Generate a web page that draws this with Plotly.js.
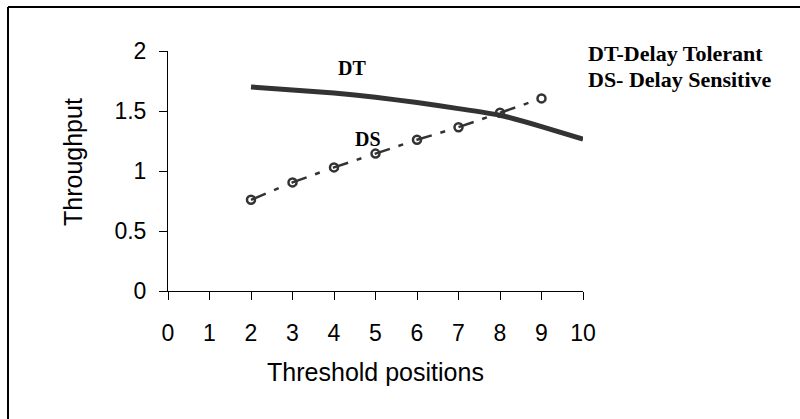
<!DOCTYPE html>
<html>
<head>
<meta charset="utf-8">
<script src="https://cdn.plot.ly/plotly-3.0.1.min.js"></script>
<style>
html,body{margin:0;padding:0;background:#fff;}
#chart{width:800px;height:419px;}
</style>
</head>
<body>
<div id="chart"></div>
<script>
// Data
const thresholdDT = [2, 3, 4, 5, 6, 7, 8, 9, 10];
const throughputDT = [1.70, 1.675, 1.65, 1.615, 1.57, 1.52, 1.465, 1.37, 1.265];
const thresholdDS = [2, 3, 4, 5, 6, 7, 8, 9];
const throughputDS = [0.76, 0.905, 1.03, 1.145, 1.26, 1.365, 1.485, 1.605];
const xTicks = [0, 1, 2, 3, 4, 5, 6, 7, 8, 9, 10];
const yTicks = [0, 0.5, 1, 1.5, 2];
const yTickText = ['0', '0.5', '1', '1.5', '2'];
const labelDT = 'DT';
const labelDS = 'DS';
const noteDT = 'DT-Delay Tolerant';
const noteDS = 'DS- Delay Sensitive';

const traces = [
  {
    x: thresholdDT, y: throughputDT, mode: 'lines', name: labelDT,
    line: {color: '#333333', width: 5, shape: 'spline', smoothing: 0.4},
    hoverinfo: 'skip'
  },
  {
    x: thresholdDS, y: throughputDS, mode: 'lines+markers', name: labelDS,
    line: {color: '#333333', width: 2.5, dash: '16px,9px,5px,14px'},
    marker: {symbol: 'circle-open', size: 8, color: '#333333', line: {width: 2.5, color: '#333333'}},
    hoverinfo: 'skip'
  }
];

const axisFont = {family: 'Liberation Sans, Arial, sans-serif', size: 23, color: '#000'};
const titleFont = {family: 'Liberation Sans, Arial, sans-serif', size: 25, color: '#000'};
const serifBold = (s) => ({family: 'Liberation Serif, Times New Roman, serif', size: s, color: '#000'});
const layout = {
  width: 800, height: 419,
  margin: {l: 168, r: 217, t: 51, b: 128},
  paper_bgcolor: '#ffffff', plot_bgcolor: '#ffffff',
  showlegend: false,
  xaxis: {
    range: [0, 10], tickvals: xTicks, ticktext: xTicks.map(String),
    showline: true, linecolor: '#000', linewidth: 1,
    ticks: 'outside', ticklen: 8, tickcolor: '#000', tickwidth: 1,
    showgrid: false, zeroline: false, tickfont: axisFont,
    ticklabelstandoff: 13,
    title: {text: 'Threshold positions', font: titleFont, standoff: 18}
  },
  yaxis: {
    range: [0, 2], tickvals: yTicks, ticktext: yTickText,
    showline: true, linecolor: '#000', linewidth: 1,
    ticks: 'outside', ticklen: 8, tickcolor: '#000', tickwidth: 1,
    showgrid: false, zeroline: false, tickfont: axisFont,
    ticklabelstandoff: 8
  },
  annotations: [
    {xref: 'paper', yref: 'paper', x: (73 - 168) / 415, y: (291 - 162) / 240, text: 'Throughput', textangle: -90,
     showarrow: false, xanchor: 'center', yanchor: 'middle', font: titleFont},
    {xref: 'x', yref: 'y', x: 4.43, y: 1.86, text: '<b>' + labelDT + '</b>', showarrow: false, font: serifBold(20)},
    {xref: 'x', yref: 'y', x: 4.82, y: 1.27, text: '<b>' + labelDS + '</b>', showarrow: false, font: serifBold(20)},
    {xref: 'paper', yref: 'paper', x: (586 - 168) / 415, y: (291 - 54) / 240, text: '<b>' + noteDT + '</b>', showarrow: false,
     xanchor: 'left', yanchor: 'middle', font: serifBold(22)},
    {xref: 'paper', yref: 'paper', x: (586 - 168) / 415, y: (291 - 79) / 240, text: '<b>' + noteDS + '</b>', showarrow: false,
     xanchor: 'left', yanchor: 'middle', font: serifBold(22)}
  ],
  shapes: [
    {type: 'line', xref: 'paper', yref: 'paper', x0: (8 - 168) / 415, x1: (800 - 168) / 415,
     y0: (291 - 7) / 240, y1: (291 - 7) / 240, line: {color: '#000', width: 2}},
    {type: 'line', xref: 'paper', yref: 'paper', x0: (8 - 168) / 415, x1: (8 - 168) / 415,
     y0: (291 - 7) / 240, y1: (291 - 420) / 240, line: {color: '#000', width: 2}}
  ]
};

Plotly.newPlot('chart', traces, layout, {displayModeBar: false, staticPlot: true});
</script>
</body>
</html>
